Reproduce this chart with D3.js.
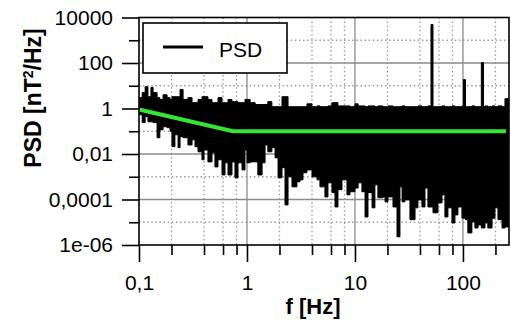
<!DOCTYPE html>
<html><head><meta charset="utf-8">
<script src="https://cdn.jsdelivr.net/npm/d3@7"></script>
<style>
html,body{margin:0;padding:0;background:#fff;}
svg{display:block;font-family:"Liberation Sans",Arial,sans-serif;}
</style></head>
<body>
<svg id="chart" width="511" height="322"></svg>
<script>
// ---- data ----
const freq = [0.100,0.107,0.114,0.121,0.129,0.135,0.147,0.156,0.167,0.182,
  0.194,0.202,0.215,0.230,0.240,0.256,0.284,0.310,0.330,0.352,
  0.383,0.400,0.435,0.474,0.505,0.539,0.587,0.626,0.667,0.726,
  0.774,0.826,0.899,0.958,1.00,1.07,1.19,1.26,1.38,1.47,
  1.56,1.70,1.82,1.94,2.11,2.25,2.40,2.61,2.90,3.10,
  3.30,3.59,4.00,4.45,4.74,5.27,5.62,6.12,6.53,6.96,
  7.58,8.43,8.99,10.0,10.7,11.6,12.4,13.2,14.4,15.3,
  16.3,18.2,19.0,20.2,22.5,24.5,26.1,27.3,29.0,32.3,
  36.0,38.3,41.7,44.5,47.4,50.6,52.8,58.7,64.0,68.1,
  72.6,79.1,84.3,89.9,97.9,101,105.5,111,121,129,
  138,148,155,160,170,186,198,211,230,245,267];
const psdLow = [0.53,0.24,0.44,0.26,0.26,0.24,0.052,0.116,0.158,0.143,
  0.1,0.021,0.07,0.019,0.057,0.052,0.025,0.042,0.021,0.0125,
  0.0056,0.015,0.0045,0.0113,0.0027,0.0056,0.0012,0.0041,0.0012,0.0045,
  0.0009,0.0041,0.002,0.015,0.0041,0.0045,0.0045,0.0012,0.0041,0.025,
  0.0125,0.019,0.0068,0.0009,0.0025,5.8e-5,0.00099,0.00036,0.0006,0.00073,
  0.0015,0.002,0.00099,0.00073,0.00036,0.00013,0.00054,0.0002,4.7e-5,0.00027,
  0.00073,0.00016,0.00022,0.00032,0.00054,0.00022,1.7e-5,0.0002,4.3e-5,0.00044,
  0.00012,0.00013,7.9e-5,0.00013,4.7e-5,2.3e-6,0.00036,7.9e-5,9.6e-5,1.3e-5,
  4.3e-5,9.6e-5,4.7e-5,0.00032,4.7e-5,4.7e-5,2.6e-5,7.1e-5,0.00016,1.7e-5,
  4.3e-5,9.3e-6,2.1e-5,4.7e-5,1.5e-5,1.5e-5,1.3e-5,3.4e-6,1.03e-5,5.6e-6,
  7.6e-6,5.6e-6,5.6e-6,9.3e-6,5.6e-6,1.5e-5,4.3e-5,1.3e-5,5.6e-6,6.2e-6,6.2e-6];
const psdHigh = [3.0,5,9,3.3,8.5,5,3,2.5,4,3,
  2.5,3.3,3.3,3.3,6.8,2.5,3,1.8,1.8,2.5,
  3.3,3.3,2.5,1.8,1.8,3,1.8,1.8,2.5,2.0,
  2.0,1.8,1.8,2.5,2.5,1.8,1.5,1.5,1.5,1.5,
  2.0,1.2,1.2,1.2,3.3,3.3,1.2,1.2,1.2,1.2,
  1.2,1.6,1.2,1.3,1.2,1.2,1.3,1.8,1.8,1.3,
  1.3,1.3,1.2,1.6,1.3,1.3,1.2,1.3,1.3,1.2,
  1.3,1.2,1.2,1.3,1.2,1.2,1.2,1.3,1.2,1.2,
  1.2,1.3,1.2,1.2,1.3,4900,1.2,1.2,1.3,1.2,
  1.2,1.3,1.2,1.2,1.3,18.6,1.2,1.2,1.3,1.2,
  1.2,104,1.2,1.3,1.2,1.3,1.2,1.3,1.2,2.7,2.7];
const fitFreq = [0.1, 0.74, 250];
const fitValue = [0.9, 0.1, 0.1];
const yMajorTicks = [1e4, 1e2, 1, 1e-2, 1e-4, 1e-6];
const yTickLabels = ["10000", "100", "1", "0,01", "0,0001", "1e-06"];
const yMinorTicks = [1e3, 10, 0.1, 1e-3, 1e-5];
const xMajorTicks = [0.1, 1, 10, 100];
const xTickLabels = ["0,1", "1", "10", "100"];
const xMinorTicks = [0.2, 0.4, 0.6, 0.8, 2, 4, 6, 8, 20, 40, 60, 80, 200];
const legendLabel = "PSD";

// ---- layout ----
const L = 139, R = 509, T = 17.5, B = 245;
const svg = d3.select("#chart");
const x = d3.scaleLog().domain([0.1, 267]).range([L, R]);
const y = d3.scaleLog().domain([1e-6, 1e4]).range([B, T]);

svg.append("defs").append("clipPath").attr("id","clip")
  .append("rect").attr("x",L).attr("y",T).attr("width",R-L).attr("height",B-T);

const grid = svg.append("g");
const solidY = [1e2, 1, 1e-2, 1e-4];
grid.selectAll(".hs").data(solidY).join("line")
  .attr("x1",L).attr("x2",R).attr("y1",d=>y(d)).attr("y2",d=>y(d))
  .attr("stroke","#8a8a8a").attr("stroke-width",1.3);
grid.selectAll(".hd").data(yMinorTicks).join("line")
  .attr("x1",L).attr("x2",R).attr("y1",d=>y(d)).attr("y2",d=>y(d))
  .attr("stroke","#9a9a9a").attr("stroke-width",1.3).attr("stroke-dasharray","1.5,2.6");
grid.selectAll(".vs").data([1,10,100]).join("line")
  .attr("y1",T).attr("y2",B).attr("x1",d=>x(d)).attr("x2",d=>x(d))
  .attr("stroke","#8a8a8a").attr("stroke-width",1.3);
grid.selectAll(".vd").data(xMinorTicks).join("line")
  .attr("y1",T).attr("y2",B).attr("x1",d=>x(d)).attr("x2",d=>x(d))
  .attr("stroke","#9a9a9a").attr("stroke-width",1.3).attr("stroke-dasharray","1.5,2.6");

// PSD band
const pts = freq.map((f,i)=>({f, lo:psdLow[i], hi:psdHigh[i]}));
const area = d3.area().x(d=>x(d.f)).y0(d=>y(d.lo)).y1(d=>y(d.hi)).curve(d3.curveStepAfter);
svg.append("path").datum(pts).attr("clip-path","url(#clip)")
  .attr("d",area).attr("fill","#000").attr("stroke","#000").attr("stroke-width",1);

// green fit
const fit = fitFreq.map((f,i)=>({f, v:fitValue[i]}));
svg.append("path").datum(fit)
  .attr("d", d3.line().x(d=>x(d.f)).y(d=>y(d.v)))
  .attr("fill","none").attr("stroke","#33e633").attr("stroke-width",4);

// frame
svg.append("rect").attr("x",L).attr("y",T).attr("width",R-L).attr("height",B-T)
  .attr("fill","none").attr("stroke","#000").attr("stroke-width",1.6);

// axes
const fmtY = d => yTickLabels[yMajorTicks.indexOf(d)];
const fmtX = d => xTickLabels[xMajorTicks.indexOf(d)];
const ax = [];
ax.push(svg.append("g").attr("transform",`translate(${L},0)`)
  .call(d3.axisLeft(y).tickValues(yMajorTicks).tickFormat(fmtY).tickSize(17).tickPadding(9)));
ax.push(svg.append("g").attr("transform",`translate(${L},0)`)
  .call(d3.axisLeft(y).tickValues(yMinorTicks).tickFormat("").tickSize(10)));
ax.push(svg.append("g").attr("transform",`translate(0,${B})`)
  .call(d3.axisBottom(x).tickValues(xMajorTicks).tickFormat(fmtX).tickSize(17).tickPadding(13)));
ax.push(svg.append("g").attr("transform",`translate(0,${B})`)
  .call(d3.axisBottom(x).tickValues(xMinorTicks).tickFormat("").tickSize(10)));
ax.forEach(g=>{
  g.select(".domain").remove();
  g.selectAll(".tick line").attr("stroke","#000").attr("stroke-width",1.6);
  g.selectAll("text").attr("fill","#000").style("font-size","21px")
    .style("font-family",'"Liberation Sans",Arial,sans-serif');
});

// axis titles
svg.append("text").attr("x",313).attr("y",314).attr("text-anchor","middle")
  .style("font-size","22px").style("font-weight","bold").text("f [Hz]");
const yt = svg.append("text").attr("transform","translate(41,98) rotate(-90)")
  .attr("text-anchor","middle").style("font-size","23px").style("font-weight","bold");
yt.append("tspan").text("PSD [nT");
yt.append("tspan").attr("baseline-shift","super").style("font-size","14px").text("2");
yt.append("tspan").text("/Hz]");

// legend
const lg = svg.append("g");
lg.append("rect").attr("x",143).attr("y",23).attr("width",144).attr("height",50)
  .attr("fill","#fff").attr("stroke","#000").attr("stroke-width",1.6);
lg.append("line").attr("x1",163).attr("x2",203).attr("y1",47).attr("y2",47)
  .attr("stroke","#000").attr("stroke-width",3);
lg.append("text").attr("x",219).attr("y",57).style("font-size","21px").text(legendLabel);
</script>
</body></html>
